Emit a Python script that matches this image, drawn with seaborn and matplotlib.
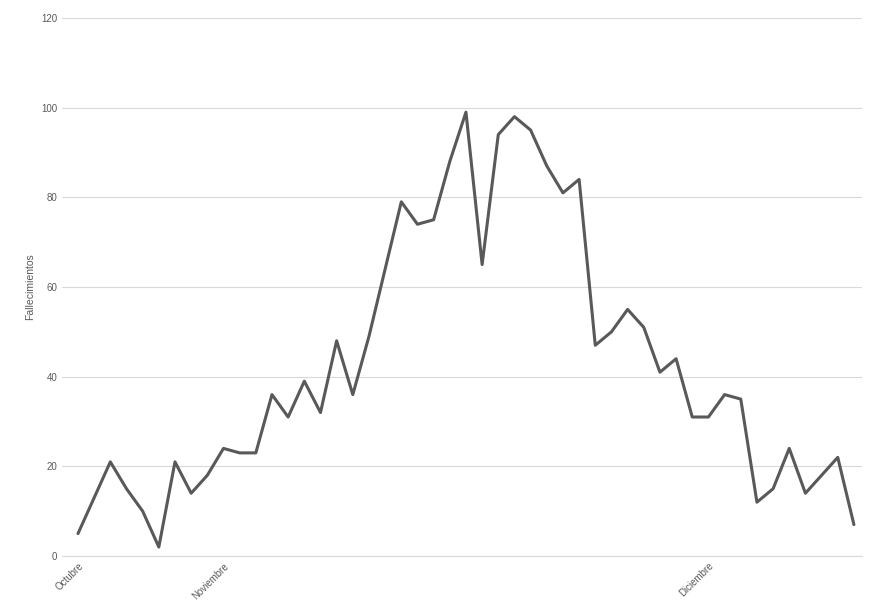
import matplotlib.pyplot as plt
import seaborn as sns
import pandas as pd

fallecimientos = [5, 13, 21, 15, 10, 2, 21, 14, 18, 24, 23, 23, 36, 31, 39, 32, 48, 36, 49, 64,
                  79, 74, 75, 88, 99, 65, 94, 98, 95, 87, 81, 84, 47, 50, 55, 51, 41, 44, 31, 31,
                  36, 35, 12, 15, 24, 14, 18, 22, 7]
tick_pos = [0, 9, 39]
tick_labels = ['Octubre', 'Noviembre', 'Diciembre']

df = pd.DataFrame({'x': range(len(fallecimientos)), 'y': fallecimientos})

sns.set_style('white')
plt.rcParams['font.family'] = ['Liberation Sans', 'DejaVu Sans']

fig = plt.figure(figsize=(8.76, 6.15), dpi=100)
ax = fig.add_axes([62 / 876, 1 - 556 / 615, 800 / 876, 538 / 615])
sns.lineplot(data=df, x='x', y='y', color='#595959', linewidth=2.2, ax=ax)

ax.set_ylim(0, 120)
ax.set_yticks(range(0, 121, 20))
ax.set_xlim(-0.99, 48.5)
ax.set_xticks(tick_pos)
ax.set_xticklabels(tick_labels, rotation=45, ha='right', rotation_mode='anchor')
ax.tick_params(axis='both', labelsize=7, colors='#595959', length=0)
ax.yaxis.grid(True, color='#d9d9d9', linewidth=0.8)
for s in ['top', 'right', 'left']:
    ax.spines[s].set_visible(False)
ax.spines['bottom'].set_color('#d9d9d9')
ax.set_xlabel('')
ax.set_ylabel('Fallecimientos', fontsize=7.5, color='#595959')

fig.savefig('out.png', dpi=100)
